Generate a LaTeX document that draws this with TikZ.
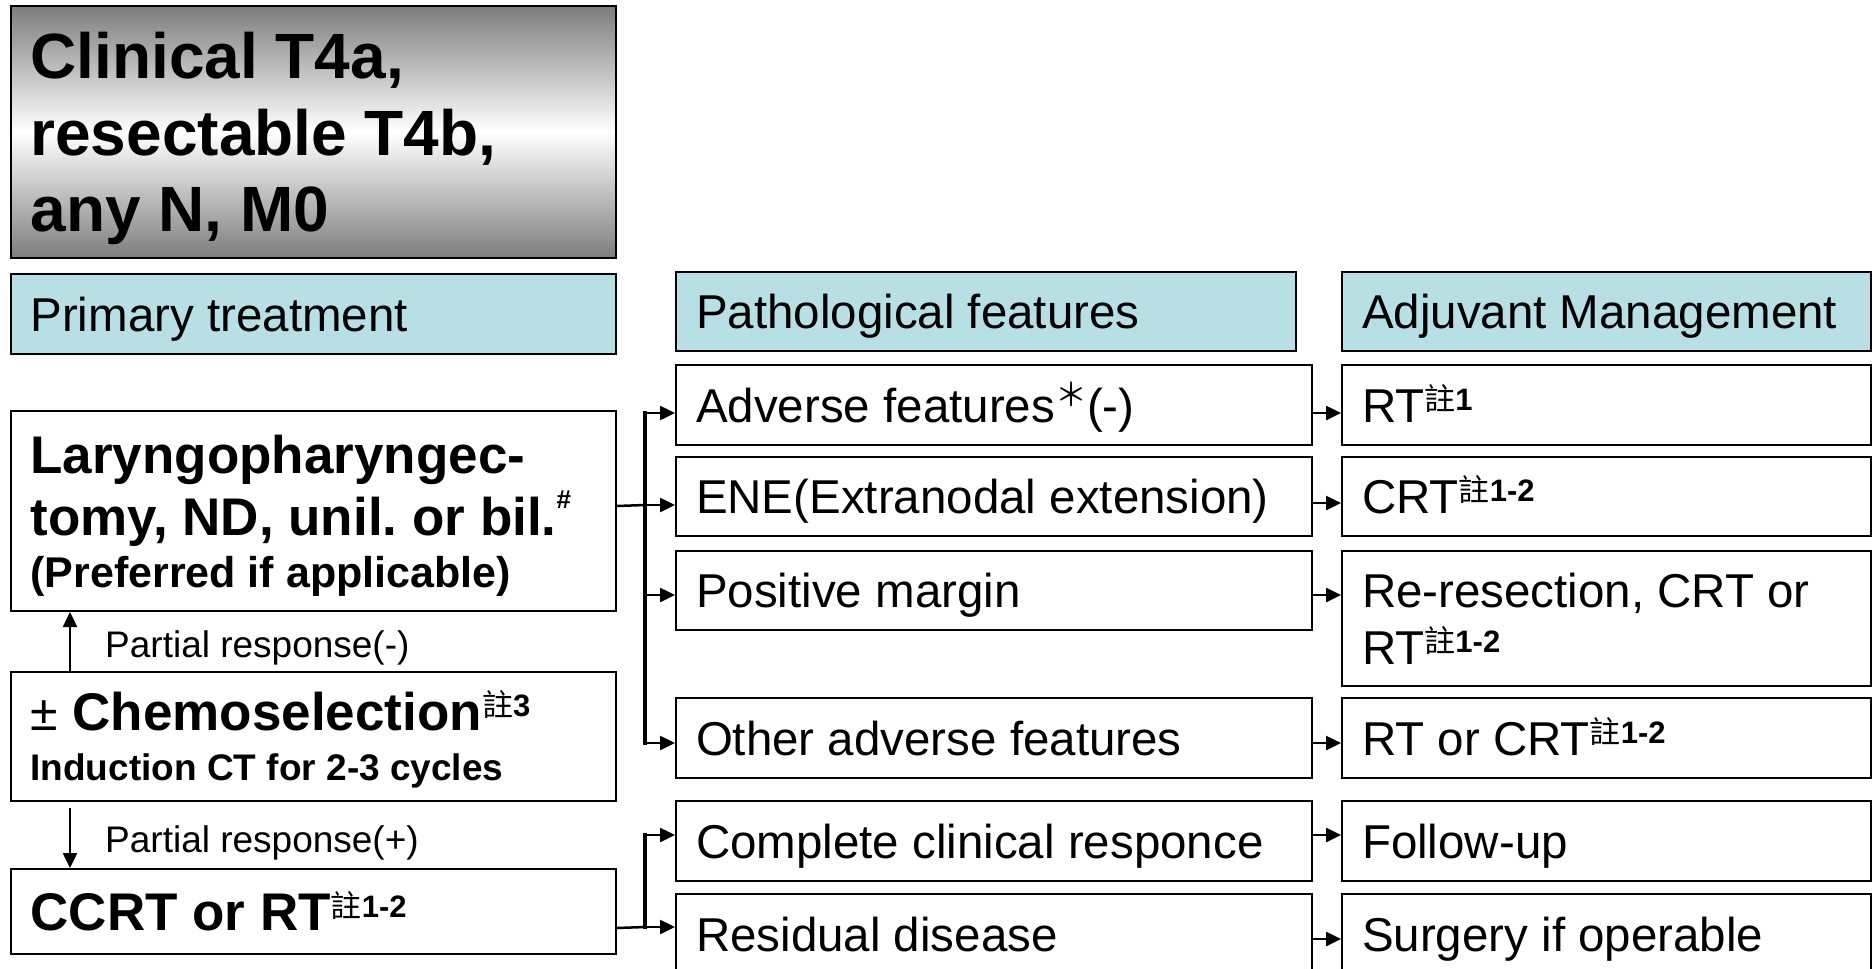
\documentclass[tikz,border=0pt]{standalone}
\usepackage{fontspec}
\setmainfont{Liberation Sans}
\newfontfamily\cjk{Noto Sans CJK TC}
\usetikzlibrary{arrows.meta}
\definecolor{celeste}{RGB}{184,223,227}
\definecolor{gris}{RGB}{125,125,125}
\newcommand{\nota}[1]{\raisebox{0.25em}{\fontsize{31}{31}\selectfont{\cjk\mdseries 註}\textbf{#1}}}
\newcommand{\asterisco}{\raisebox{16pt}{\fontsize{32}{32}\selectfont\cjk ＊}}
\newcommand{\letra}{\fontsize{47.5}{57}\selectfont}
\newcommand{\letragrande}{\bfseries\fontsize{53}{62}\selectfont}
\newcommand{\letrachica}{\fontsize{37}{44}\selectfont}
\tikzstyle{caja} = [draw, line width=2pt, rectangle, anchor=north west, inner xsep=20pt, inner ysep=0pt, align=flush left, font=\letra, text height=34pt, text depth=0pt]
\tikzstyle{encabezado} = [caja, fill=celeste]
\tikzstyle{cajatitulo} = [caja, top color=gris, bottom color=gris, middle color=white]
\tikzstyle{flecha} = [line width=2.5pt, -{Triangle[length=15pt,width=14pt]}]
\tikzstyle{linea} = [line width=2.5pt]
\tikzstyle{tronco} = [line width=4pt, line cap=rect]
\tikzstyle{etiqueta} = [anchor=base west, inner sep=0pt, font=\letrachica]

\begin{document}
\frenchspacing
\begin{tikzpicture}[x=1pt, y=-1pt]
	\useasboundingbox (0,0) rectangle (1872,969);
	\node[cajatitulo, text width=565.5pt, minimum height=252pt, font=\bfseries\fontsize{64}{76.5}\selectfont, text height=46pt, text depth=153pt] (titulo) at (9.5,5) {Clinical T4a,\\resectable T4b,\\any N, M0};
	\node[encabezado, text width=565.5pt, minimum height=80pt] (primario) at (9.5,273) {Primary treatment};
	\node[encabezado, text width=580pt, minimum height=79pt] (patologia) at (675,271) {Pathological features};
	\node[encabezado, text width=489pt, minimum height=79pt] (adyuvante) at (1341,271) {Adjuvant Management};

	\node[caja, text width=565.5pt, minimum height=200pt, font=\letragrande, text height=38pt, text depth=114pt] (cirugia) at (9.5,410) {Laryngopharyngec-\\tomy, ND, unil. or bil.\raisebox{0.5em}{\fontsize{26}{26}\selectfont\#}\\[-9.5pt]{\fontsize{43}{50}\selectfont(Preferred if applicable)}};
	\node[caja, text width=565.5pt, minimum height=129pt, font=\bfseries\fontsize{53}{50}\selectfont, text height=37pt, text depth=50pt] (quimio) at (9.5,671) {{\mdseries\fontsize{50}{50}\selectfont ±} Chemoselection\nota{3}\\{\fontsize{37}{50}\selectfont Induction CT for 2-3 cycles}};
	\node[caja, text width=565.5pt, minimum height=85pt, font=\letragrande, text height=38pt] (ccrt) at (9.5,868) {CCRT or RT\nota{1-2}};

	\node[caja, text width=596pt, minimum height=80pt] (adverso) at (675,364) {Adverse features\asterisco(-)};
	\node[caja, text width=596pt, minimum height=79pt] (ene) at (675,456) {ENE(Extranodal extension)};
	\node[caja, text width=596pt, minimum height=79pt] (margen) at (675,550) {Positive margin};
	\node[caja, text width=596pt, minimum height=80pt] (otros) at (675,697) {Other adverse features};
	\node[caja, text width=596pt, minimum height=80pt] (completa) at (675,800) {Complete clinical responce};
	\node[caja, text width=596pt, minimum height=80pt] (residual) at (675,893) {Residual disease};

	\node[caja, text width=489pt, minimum height=80pt] (rt) at (1341,364) {RT\nota{1}};
	\node[caja, text width=489pt, minimum height=79pt] (crt) at (1341,456) {CRT\nota{1-2}};
	\node[caja, text width=489pt, minimum height=135pt, text depth=57pt] (rerreseccion) at (1341,550) {Re-resection, CRT or\\RT\nota{1-2}};
	\node[caja, text width=489pt, minimum height=80pt] (rtcrt) at (1341,697) {RT or CRT\nota{1-2}};
	\node[caja, text width=489pt, minimum height=80pt] (seguimiento) at (1341,800) {Follow-up};
	\node[caja, text width=489pt, minimum height=80pt] (operable) at (1341,893) {Surgery if operable};

	\node[etiqueta] (respmenos) at (105,657) {Partial response(-)};
	\node[etiqueta] (respmas) at (105,852) {Partial response(+)};

	\draw[flecha] ([xshift=60.5pt]quimio.north west) -- ([xshift=60.5pt]cirugia.south west);
	\draw[flecha] ([xshift=60.5pt,yshift=-6pt]quimio.south west) -- ([xshift=60.5pt]ccrt.north west);

	\coordinate (nudo) at (645,505);
	\coordinate (nudo2) at (645,927);
	\draw[tronco] ([yshift=-8pt]nudo |- adverso.west) -- ([yshift=-5pt]nudo |- otros.west);
	\draw[linea] ([yshift=5pt]cirugia.east) -- (nudo);
	\draw[flecha] (nudo) -- (nudo -| ene.west);
	\foreach \destino/\d in {adverso/-8pt, margen/-4.5pt, otros/-5pt}
		\draw[flecha] ([yshift=\d]nudo |- \destino.west) -- ([yshift=\d]\destino.west);
	\draw[tronco] (nudo2) -- ([yshift=6pt]nudo2 |- completa.west);
	\draw[linea] ([yshift=-16.5pt]ccrt.east) -- (nudo2);
	\draw[flecha] ([yshift=6pt]nudo2 |- completa.west) -- ([yshift=6pt]completa.west);
	\draw[flecha] (nudo2) -- (nudo2 -| residual.west);

	\foreach \origen/\destino/\d in {adverso/rt/-8pt, ene/crt/-6.5pt, margen/rerreseccion/-4.5pt, otros/rtcrt/-5pt, completa/seguimiento/6pt, residual/operable/-5pt}
		\draw[flecha] ([yshift=\d]\origen.east) -- ([yshift=\d]\origen.east -| \destino.west);
\end{tikzpicture}
\end{document}
